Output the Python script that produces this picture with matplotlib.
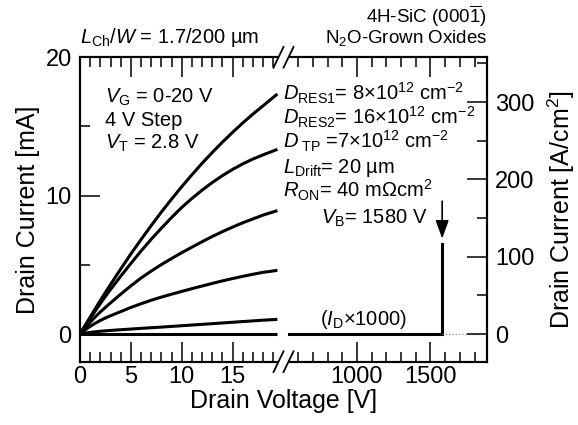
import numpy as np
import matplotlib
matplotlib.use("Agg")
import matplotlib.pyplot as plt
from matplotlib.ticker import FixedLocator, FixedFormatter
from matplotlib.scale import FuncScale

plt.rcParams["font.family"] = ["Liberation Sans", "DejaVu Sans"]
plt.rcParams["mathtext.fontset"] = "custom"
plt.rcParams["mathtext.rm"] = "Liberation Sans"
plt.rcParams["mathtext.it"] = "Liberation Sans:italic"
plt.rcParams["mathtext.bf"] = "Liberation Sans:bold"

# ---------------- data ----------------
vd_low = [0, 0.5, 1, 1.5, 2, 2.5, 3, 4, 5, 6, 7, 8, 9, 10, 11, 12, 13, 14, 15, 16, 17, 18, 19.4]
id_vg0 = [0] * 23
id_vg4 = [0, 0.07, 0.12, 0.16, 0.20, 0.23, 0.26, 0.31, 0.36, 0.41, 0.455, 0.50, 0.55, 0.60,
          0.65, 0.70, 0.75, 0.80, 0.85, 0.90, 0.95, 1.00, 1.06]
id_vg8 = [0, 0.30, 0.55, 0.78, 0.98, 1.16, 1.32, 1.62, 1.92, 2.19, 2.44, 2.67, 2.88, 3.08,
          3.28, 3.47, 3.66, 3.84, 4.01, 4.17, 4.32, 4.46, 4.60]
id_vg12 = [0, 0.45, 0.85, 1.24, 1.60, 1.93, 2.25, 2.88, 3.48, 4.05, 4.55, 5.02, 5.46, 5.88,
           6.28, 6.67, 7.05, 7.40, 7.73, 8.04, 8.32, 8.60, 8.92]
id_vg16 = [0, 0.57, 1.12, 1.67, 2.20, 2.72, 3.22, 4.18, 5.10, 6.00, 6.85, 7.65, 8.42, 9.15,
           9.80, 10.40, 10.95, 11.45, 11.90, 12.30, 12.65, 12.95, 13.35]
id_vg20 = [0, 0.62, 1.23, 1.83, 2.43, 3.01, 3.58, 4.70, 5.79, 6.83, 7.84, 8.82, 9.75, 10.65,
           11.51, 12.34, 13.12, 13.87, 14.58, 15.26, 15.90, 16.50, 17.35]
low_curves = [id_vg0, id_vg4, id_vg8, id_vg12, id_vg16, id_vg20]

vd_high = [540, 1580, 1580]
id_high_x1000 = [0, 0, 6.5]
vd_dotted = [1580, 1885]
id_dotted = [0, 0]
v_breakdown = 1580
arrow_from, arrow_to = 9.6, 6.9

x_major = [0, 5, 10, 15, 1000, 1500]
x_major_labels = ["0", "5", "10", "15", "1000", "1500"]
x_minor = [1, 2, 3, 4, 6, 7, 8, 9, 11, 12, 13, 14, 16, 17, 18, 19,
           600, 700, 800, 900, 1100, 1200, 1300, 1400, 1600, 1700, 1800]
yl_major = [0, 10, 20]
yl_minor = [5, 15]
yr_major = [0, 100, 200, 300]
yr_minor = [50, 150, 250, 350]
area_ratio = 17.9  # A/cm^2 per mA

# ---------------- broken x scale ----------------
B0, B1, XMAX = 20.0, 500.0, 1885.0
K = (40.0 - B0) / (XMAX - B1)


def fwd(x):
    x = np.asarray(x, float)
    return np.where(x <= B0, x,
                    np.where(x >= B1, B0 + (x - B1) * K, B0 + (x - B0) * 1e-7))


def inv(u):
    u = np.asarray(u, float)
    return np.where(u <= B0, u, B1 + (u - B0) / K)


W, H = 578, 425
fig = plt.figure(figsize=(W / 100, H / 100), dpi=100)
L, R, T, Bt = 80, 487, 57.3, 361.7
ax = fig.add_axes([L / W, 1 - Bt / H, (R - L) / W, (Bt - T) / H])
ax.set_xscale(FuncScale(ax, (fwd, inv)))
ax.set_xlim(0, XMAX)
ax.set_ylim(-2, 20)

lw = 2.2
for c in low_curves:
    ax.plot(vd_low, c, color="black", lw=lw, solid_capstyle="butt", solid_joinstyle="round")
ax.plot(vd_high, id_high_x1000, color="black", lw=lw, solid_joinstyle="miter")
ax.plot(vd_dotted, id_dotted, color="#777777", lw=0.8, ls=(0, (1, 2)))

ax.annotate("", xy=(v_breakdown, arrow_to), xytext=(v_breakdown, arrow_from),
            arrowprops=dict(arrowstyle="-|>,head_length=0.55,head_width=0.2",
                            mutation_scale=20, color="black", lw=1.2,
                            shrinkA=0, shrinkB=0))

for sp in ax.spines.values():
    sp.set_linewidth(1.5)

ax.xaxis.set_major_locator(FixedLocator(x_major))
ax.xaxis.set_major_formatter(FixedFormatter(x_major_labels))
ax.xaxis.set_minor_locator(FixedLocator(x_minor))
ax.yaxis.set_major_locator(FixedLocator(yl_major))
ax.yaxis.set_minor_locator(FixedLocator(yl_minor))

tk = dict(direction="in", width=1.1, labelsize=17)
ax.tick_params(axis="x", which="major", length=14.4, pad=3, top=True, **tk)
ax.tick_params(axis="x", which="minor", length=7.2, top=True, direction="in", width=1.1)
ax.tick_params(axis="y", which="major", length=14.4, pad=6, right=False, **tk)
ax.tick_params(axis="y", which="minor", length=7.2, right=False, direction="in", width=1.1)

ax2 = ax.twinx()
ax2.set_ylim(-2 * area_ratio, 20 * area_ratio)
ax2.yaxis.set_major_locator(FixedLocator(yr_major))
ax2.yaxis.set_minor_locator(FixedLocator(yr_minor))
ax2.tick_params(axis="y", which="major", length=14.4, pad=6, **tk)
ax2.tick_params(axis="y", which="minor", length=7.2, direction="in", width=1.1)
for sp in ax2.spines.values():
    sp.set_linewidth(1.5)

ax.set_xlabel("Drain Voltage [V]", fontsize=18, labelpad=1)
ax.set_ylabel("Drain Current [mA]", fontsize=18, labelpad=4)
ax2.set_ylabel(r"Drain Current [A/cm$^{2}$]", fontsize=18, labelpad=8)

# break marks at axes x = 0.5
for yb in (0.0, 1.0):
    ax2.plot([0.5 - 0.0123, 0.5 + 0.0123], [yb, yb], transform=ax.transAxes,
             color="white", lw=3, clip_on=False, zorder=10, solid_capstyle="butt")
    for dx in (-0.0123, 0.0123):
        ax2.plot([0.5 + dx - 0.0123, 0.5 + dx + 0.0123], [yb - 0.034, yb + 0.034],
                 transform=ax.transAxes, color="black", lw=1.3, clip_on=False, zorder=11)

fs = 14.5
t = ax.transAxes
ax.text(0.0614, 0.8494, r"$V_\mathrm{G}$ = 0-20 V", transform=t, fontsize=fs)
ax.text(0.0614, 0.7755, "4 V Step", transform=t, fontsize=fs)
ax.text(0.0614, 0.7000, r"$V_\mathrm{T}$ = 2.8 V", transform=t, fontsize=fs)

xr = 0.499
ax.text(xr, 0.8597, r"$D_\mathrm{RES1}$= 8×10$^{12}$ cm$^{-2}$", transform=t, fontsize=fs)
ax.text(xr, 0.7792, r"$D_\mathrm{RES2}$= 16×10$^{12}$ cm$^{-2}$", transform=t, fontsize=fs)
ax.text(xr, 0.6988, r"$D_\mathrm{\ TP}$ =7×10$^{12}$ cm$^{-2}$", transform=t, fontsize=fs)
ax.text(xr, 0.6183, r"$L_\mathrm{Drift}$= 20 µm", transform=t, fontsize=fs)
ax.text(xr, 0.5378, r"$R_\mathrm{ON}$= 40 mΩcm$^{2}$", transform=t, fontsize=fs)
ax.text(0.8526, 0.4524, r"$V_\mathrm{B}$= 1580 V", transform=t, fontsize=fs, ha="right")
ax.text(0.5897, 0.1206, r"($I_\mathrm{D}$×1000)", transform=t, fontsize=fs)

ax.text(0.0, 1.046, r"$L_\mathrm{Ch}/W$ = 1.7/200 µm", transform=t, fontsize=fs)
ax.text(1.0, 1.112, r"4H-SiC (000$\overline{\mathrm{1}}$)", transform=t, fontsize=13.5, ha="right")
ax.text(1.0, 1.046, r"N$_\mathrm{2}$O-Grown Oxides", transform=t, fontsize=13.5, ha="right")

fig.savefig("out.png", dpi=100)
